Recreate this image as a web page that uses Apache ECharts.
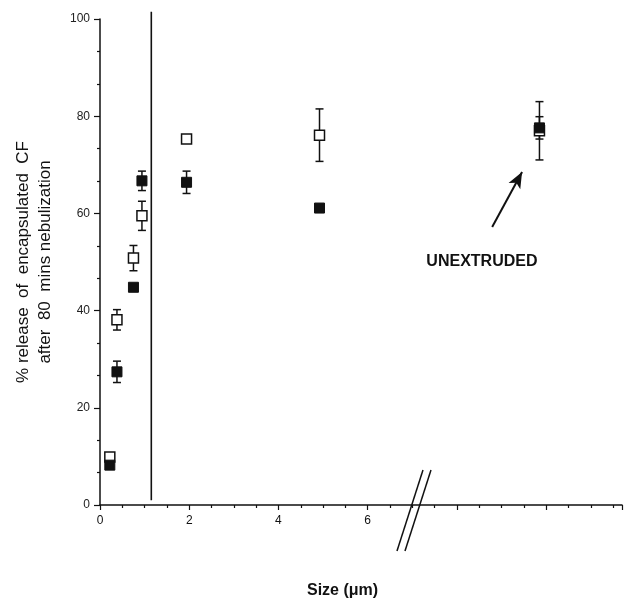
<!DOCTYPE html>
<html>
<head>
<meta charset="utf-8">
<script src="https://cdn.jsdelivr.net/npm/echarts@6/dist/echarts.min.js"></script>
<style>
  html, body { margin: 0; padding: 0; background: #fff; }
  #chart { width: 625px; height: 599px; }
</style>
</head>
<body>
<div id="chart"></div>
<script>
// vesicle size (um) and % CF release
const sizes = [0.22, 0.38, 0.75, 0.94, 1.94, 4.92, 9.85];
const releaseFilled = [8.2, 27.4, 44.8, 66.7, 66.4, 61.1, 77.6];
const errFilled = [0, 2.2, 0.5, 2.0, 2.3, 0.7, 2.3];
const releaseOpen = [9.9, 38.1, 50.8, 59.5, 75.3, 76.1, 77.0];
const errOpen = [0, 2.1, 2.6, 3.0, 0, 5.4, 6.0];

const yTicks = [0, 20, 40, 60, 80, 100];
const xLabelMax = 6; // labels stop before the axis break
const dividerLine = [[1.15, 1, 101.5]]; // x, y from, y to
const breakAt = 7.06;
const arrowFrom = [8.79, 57.2];
const arrowTo = [9.46, 68.5];
const noteAt = [8.56, 50.0];

const FONT = '"Liberation Sans", Arial, Helvetica, sans-serif';
const INK = '#111';

const chart = echarts.init(document.getElementById('chart'));

const points = (vals) => sizes.map((s, i) => [s, vals[i]]);
const bars = (vals, errs) =>
  sizes.map((s, i) => [s, vals[i] - errs[i], vals[i] + errs[i]]).filter((d, i) => errs[i] > 0);

// vertical error bar with caps
function renderError(params, api) {
  const top = api.coord([api.value(0), api.value(2)]);
  const bot = api.coord([api.value(0), api.value(1)]);
  const w = 4;
  const st = { stroke: INK, lineWidth: 1.5 };
  return {
    type: 'group',
    children: [
      { type: 'line', shape: { x1: top[0], y1: top[1], x2: bot[0], y2: bot[1] }, style: st },
      { type: 'line', shape: { x1: top[0] - w, y1: top[1], x2: top[0] + w, y2: top[1] }, style: st },
      { type: 'line', shape: { x1: bot[0] - w, y1: bot[1], x2: bot[0] + w, y2: bot[1] }, style: st }
    ]
  };
}

// plain vertical rule between two y values
function renderRule(params, api) {
  const top = api.coord([api.value(0), api.value(2)]);
  const bot = api.coord([api.value(0), api.value(1)]);
  return {
    type: 'line',
    shape: { x1: top[0], y1: top[1], x2: bot[0], y2: bot[1] },
    style: { stroke: INK, lineWidth: 1.6 }
  };
}

// two slashes across the x axis
function renderBreak(params, api) {
  const p = api.coord([api.value(0), api.value(1)]);
  const st = { stroke: INK, lineWidth: 1.5 };
  return {
    type: 'group',
    children: [-4, 4].map(dx => ({
      type: 'line',
      shape: { x1: p[0] + dx + 12, y1: p[1] - 35, x2: p[0] + dx - 14, y2: p[1] + 46 },
      style: st
    }))
  };
}

const option = {
  backgroundColor: '#fff',
  animation: false,
  textStyle: { fontFamily: FONT, color: INK },
  title: {
    text: 'Size (\u03bcm)',
    left: 302,
    top: 578,
    textStyle: { fontFamily: FONT, fontSize: 16, fontWeight: 'bold', color: INK }
  },
  grid: { left: 100, right: 3, top: 19, bottom: 94, outerBoundsMode: 'none', containLabel: false },
  xAxis: {
    type: 'value',
    min: 0,
    max: 11.7,
    interval: 2,
    splitLine: { show: false },
    axisLine: { onZero: false, lineStyle: { color: INK, width: 1.5 } },
    axisTick: { inside: false, length: 5, lineStyle: { color: INK, width: 1.2 } },
    minorTick: { show: true, splitNumber: 4, length: 3, lineStyle: { color: INK, width: 1.2 } },
    axisLabel: {
      margin: 10,
      fontSize: 12,
      color: INK,
      fontFamily: FONT,
      formatter: v => (v <= xLabelMax ? String(v) : '')
    }
  },
  yAxis: {
    type: 'value',
    min: 0,
    max: 100,
    interval: 20,
    name: '% release  of  encapsulated  CF\nafter  80  mins nebulization',
    nameLocation: 'middle',
    nameRotate: 90,
    nameGap: 44,
    nameTextStyle: { fontFamily: FONT, fontSize: 17, color: INK, lineHeight: 22 },
    splitLine: { show: false },
    axisLine: { lineStyle: { color: INK, width: 1.5 } },
    axisTick: { length: 6, lineStyle: { color: INK, width: 1.2 } },
    minorTick: { show: true, splitNumber: 3, length: 3, lineStyle: { color: INK, width: 1.2 } },
    axisLabel: {
      margin: 10,
      fontSize: 12,
      color: '#222',
      fontFamily: FONT,
      customValues: yTicks
    }
  },
  series: [
    {
      type: 'custom',
      name: 'divider',
      renderItem: renderRule,
      data: dividerLine,
      clip: false,
      silent: true,
      z: 1
    },
    {
      type: 'custom',
      name: 'open error',
      renderItem: renderError,
      data: bars(releaseOpen, errOpen),
      z: 2,
      silent: true
    },
    {
      type: 'custom',
      name: 'filled error',
      renderItem: renderError,
      data: bars(releaseFilled, errFilled),
      z: 2,
      silent: true
    },
    {
      type: 'scatter',
      name: 'open',
      data: points(releaseOpen),
      symbol: 'rect',
      symbolSize: 10,
      itemStyle: { color: '#fff', borderColor: INK, borderWidth: 1.5, opacity: 1 },
      z: 3
    },
    {
      type: 'scatter',
      name: 'filled',
      data: points(releaseFilled),
      symbol: 'rect',
      symbolSize: 10,
      itemStyle: { color: INK, borderColor: INK, borderWidth: 1, opacity: 1 },
      z: 4,
      markLine: {
        silent: true,
        symbol: ['none', 'arrow'],
        symbolSize: [10, 16],
        label: { show: false },
        lineStyle: { color: INK, width: 2, type: 'solid' },
        data: [[{ coord: arrowFrom }, { coord: arrowTo }]]
      },
      markPoint: {
        silent: true,
        symbol: 'circle',
        symbolSize: 0,
        data: [{ coord: noteAt, value: 'UNEXTRUDED' }],
        label: {
          show: true,
          position: 'inside',
          formatter: 'UNEXTRUDED',
          fontFamily: FONT,
          fontSize: 16,
          fontWeight: 'bold',
          color: INK
        }
      }
    },
    {
      type: 'custom',
      name: 'axis break',
      renderItem: renderBreak,
      data: [[breakAt, 0]],
      clip: false,
      silent: true,
      z: 5
    }
  ]
};

chart.setOption(option);
</script>
</body>
</html>
